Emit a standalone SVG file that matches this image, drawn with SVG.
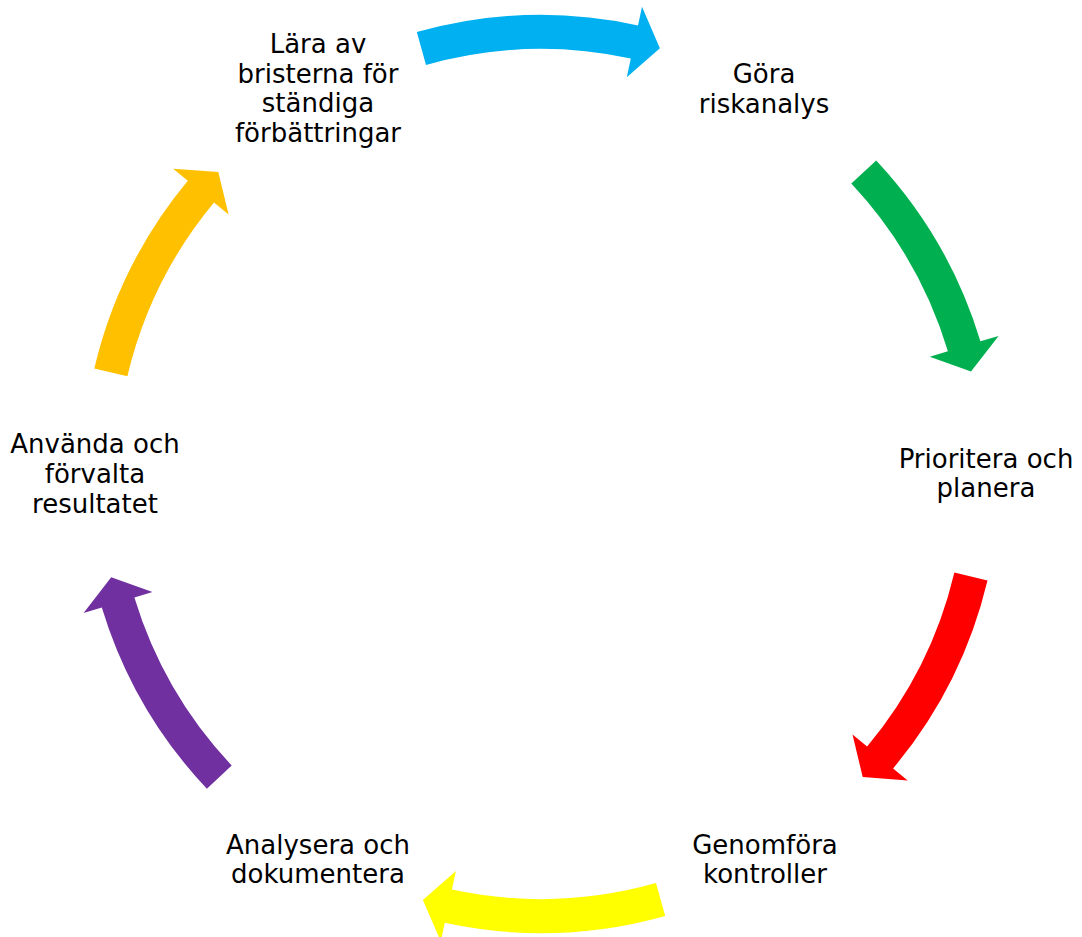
<svg xmlns="http://www.w3.org/2000/svg" width="1082" height="937" viewBox="0 0 1082 937">
<style>
text{font-family:"DejaVu Sans","Liberation Sans",sans-serif;font-size:26px;fill:#000;text-anchor:middle}
</style>
<rect width="1082" height="937" fill="#fff"/>
<g id="connectors">
<path id="arrow-blue" fill="#00B0F0" d="M416.8,32.1 A459,459 0 0 1 638.0,25.4 L642.0,6.8 L659.9,48.3 L626.8,77.2 L630.8,58.6 A425,425 0 0 0 426.0,64.9 Z"/>
<path id="arrow-green" fill="#00B050" d="M876.2,160.4 A459,459 0 0 1 980.4,341.3 L998.6,335.9 L971.0,371.6 L929.7,356.7 L947.9,351.2 A425,425 0 0 0 851.3,183.6 Z"/>
<path id="arrow-red" fill="#FF0000" d="M987.5,580.4 A459,459 0 0 1 893.1,768.4 L907.7,780.6 L862.7,777.1 L852.5,734.4 L867.1,746.6 A425,425 0 0 0 954.4,572.5 Z"/>
<path id="arrow-yellow" fill="#FFFF00" d="M665.2,915.9 A459,459 0 0 1 444.8,922.8 L440.8,941.4 L422.9,899.9 L455.9,871.0 L451.9,889.6 A425,425 0 0 0 656.0,883.1 Z"/>
<path id="arrow-purple" fill="#7030A0" d="M206.9,788.8 A459,459 0 0 1 101.8,607.4 L83.6,613.0 L111.2,577.2 L152.5,592.0 L134.4,597.5 A425,425 0 0 0 231.7,765.5 Z"/>
<path id="arrow-orange" fill="#FFC000" d="M94.3,368.4 A459,459 0 0 1 187.8,180.8 L173.2,168.7 L218.3,172.0 L228.6,214.6 L214.0,202.5 A425,425 0 0 0 127.4,376.2 Z"/>
</g>
<g id="node-gora">
<text x="764" y="83">Göra</text>
<text x="764" y="113">riskanalys</text>
</g>
<g id="node-prioritera">
<text x="986" y="468">Prioritera och</text>
<text x="986" y="497">planera</text>
</g>
<g id="node-genomfora">
<text x="765" y="854">Genomföra</text>
<text x="765" y="883">kontroller</text>
</g>
<g id="node-analysera">
<text x="318" y="854">Analysera och</text>
<text x="318" y="883">dokumentera</text>
</g>
<g id="node-anvanda">
<text x="95" y="453">Använda och</text>
<text x="95" y="483">förvalta</text>
<text x="95" y="513">resultatet</text>
</g>
<g id="node-lara">
<text x="318" y="53">Lära av</text>
<text x="318" y="83">bristerna för</text>
<text x="318" y="112">ständiga</text>
<text x="318" y="142">förbättringar</text>
</g>
</svg>
